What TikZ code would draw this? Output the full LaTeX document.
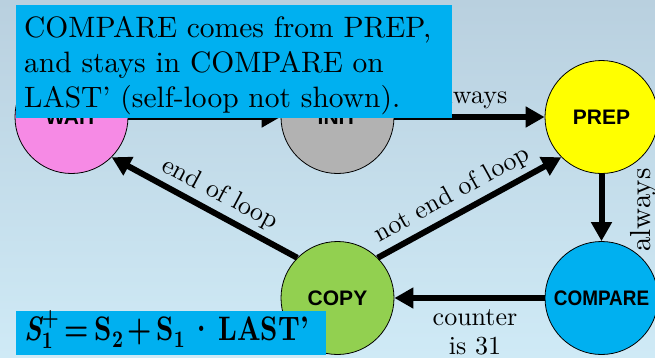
\documentclass[tikz,border=0pt]{standalone}
\usepackage{amsmath}
\usepackage{fontspec}
% the 10pt design of Latin Modern at every size
\setmainfont{lmroman10-regular}[Extension=.otf, BoldFont=lmroman10-bold,
  ItalicFont=lmroman10-italic, BoldItalicFont=lmroman10-bolditalic]
\newfontfamily\labelfont{Liberation Sans}
\usetikzlibrary{arrows.meta}

\definecolor{bgtop}{HTML}{B9D0DF}
\definecolor{bgbottom}{HTML}{CFEAF6}
\definecolor{noteblue}{HTML}{00B0F0}
\definecolor{waitpink}{HTML}{F68AE5}
\definecolor{initgray}{HTML}{B2B2B2}
\definecolor{prepyellow}{HTML}{FFFF00}
\definecolor{copygreen}{HTML}{92D050}

% bold text pieces inside the equation
\newcommand{\eqb}[1]{\text{\bfseries #1}}

\begin{document}
\begin{tikzpicture}[x=1pt, y=-1pt,
  state/.style={circle, draw=black, line width=0.8pt, minimum size=113pt,
    inner sep=0pt, font=\labelfont\bfseries\fontsize{21}{25}\selectfont},
  trans/.style={line width=6pt, -{Triangle[length=19pt,width=20pt]}},
  edgelabel/.style={font=\fontsize{26}{30}\selectfont, inner sep=0pt},
  notebox/.style={fill=noteblue, inner sep=0pt, anchor=north west},
  notetext/.style={font=\fontsize{29.5}{35}\selectfont, anchor=base west, inner sep=0pt}]

\useasboundingbox (0,0) rectangle (655,357);
\shade[top color=bgtop, bottom color=bgbottom] (0,0) rectangle (655,357);

% states
\node[state, fill=waitpink]   (wait)    at (71.5,117)  {WAIT};
\node[state, fill=initgray]   (init)    at (337.5,117) {INIT};
\node[state, fill=prepyellow] (prep)    at (601.5,117) {PREP};
\node[state, fill=copygreen]  (copy)    at (337.5,298) {COPY};
\node[state, fill=noteblue]   (compare) at (601.5,298) {\scalebox{0.9}[1]{COMPARE}};

% transitions
\draw[trans] (wait) -- (init);
\draw[trans] (init) -- (prep);
\draw[trans] (prep) -- (compare);
\draw[trans] (compare) -- (copy);
\draw[trans] (copy.135) -- (wait.-45);
\draw[trans] (copy.45) -- (prep.-135);

% transition labels
\node[edgelabel, anchor=base] (lblinitprep) at (470,103) {always};
\node[edgelabel, anchor=base, rotate=90, font=\fontsize{29}{33}\selectfont]
  (lblprepcompare) at (650,210) {always};
\node[edgelabel, rotate=-28] (lblcopywait) at (220,194) {end of loop};
\node[edgelabel, rotate=29] (lblcopyprep) at (452,195) {not end of loop};
\node[edgelabel, anchor=base] (lblcomparecopy) at (475,325) {counter};
\node[edgelabel, anchor=base] (lblcomparecopyb) at (475,354) {is 31};

% note about COMPARE
\node[notebox, minimum width=436pt, minimum height=113pt] (note) at (16,5) {};
\node[notetext] (noteA) at (24,37)  {COMPARE comes from PREP,};
\node[notetext] (noteB) at (24,72)  {and stays in COMPARE on};
\node[notetext] (noteC) at (24,107) {LAST’ (self-loop not shown).};

% next-state equation
\node[notebox, minimum width=310pt, minimum height=44pt] (eqbox) at (16,311) {};
\node[anchor=base west, inner sep=0pt, font=\fontsize{34}{40}\selectfont]
  (eq) at (24,340) {\scalebox{0.8}[1]{$\eqb{\itshape S}_{\eqb{1}}^{\eqb{+}}
    \mathrel{\eqb{=}} \eqb{S}_{\eqb{2}} \mathbin{\eqb{+}} \eqb{S}_{\eqb{1}}
    \mathbin{\eqb{·}} \eqb{LAST’}$}};
\end{tikzpicture}
\end{document}
